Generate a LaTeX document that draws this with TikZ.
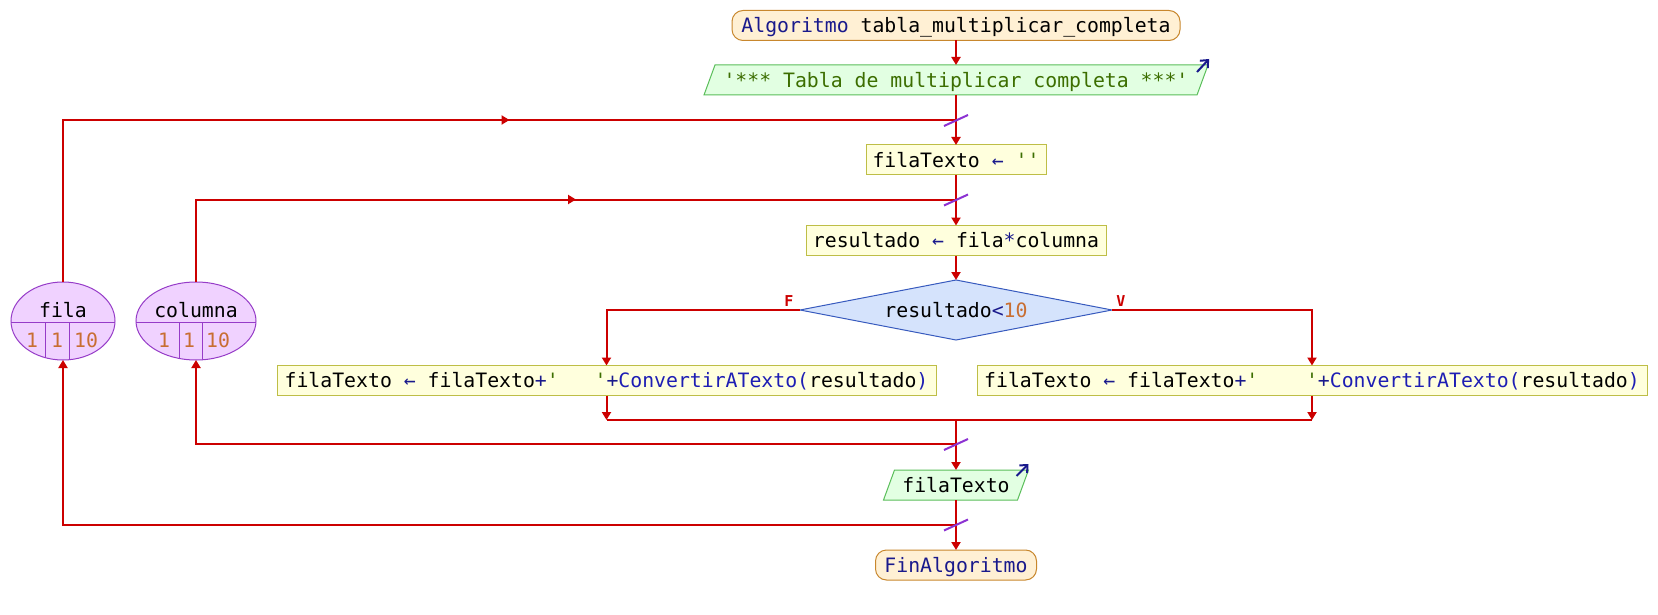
\documentclass[tikz,border=0pt]{standalone}
\usepackage{fontspec}
\setmonofont{DejaVu Sans Mono}
\usetikzlibrary{shapes.geometric,arrows.meta,calc,backgrounds}

\definecolor{flowc}{RGB}{204,0,0}
\definecolor{slashc}{RGB}{140,50,210}
\definecolor{termfill}{RGB}{255,240,212}
\definecolor{termdraw}{RGB}{200,135,45}
\definecolor{procfill}{RGB}{255,255,221}
\definecolor{procdraw}{RGB}{190,190,70}
\definecolor{iofill}{RGB}{226,255,226}
\definecolor{iodraw}{RGB}{90,190,90}
\definecolor{decfill}{RGB}{213,227,252}
\definecolor{decdraw}{RGB}{55,90,190}
\definecolor{varfill}{RGB}{240,210,255}
\definecolor{vardraw}{RGB}{150,60,200}
\definecolor{kwc}{RGB}{25,25,140}
\definecolor{strc}{RGB}{60,110,0}
\definecolor{numc}{RGB}{200,110,50}
\definecolor{fnc}{RGB}{30,30,180}

\newcommand\kw[1]{\textcolor{kwc}{#1}}
\newcommand\cstr[1]{\textcolor{strc}{#1}}
\newcommand\cnum[1]{\textcolor{numc}{#1}}
\newcommand\cfn[1]{\textcolor{fnc}{#1}}

\begin{document}
\begin{tikzpicture}[x=1pt, y=-1pt,
  font=\ttfamily\fontsize{19.8pt}{24pt}\selectfont,
  base/.style={inner sep=0pt, outer sep=0pt, text height=16.4pt, text depth=2pt, minimum height=30pt, line width=1pt},
  term/.style={base, draw=termdraw, fill=termfill, rounded corners=11pt},
  proc/.style={base, draw=procdraw, fill=procfill},
  io/.style={base},
  dec/.style={diamond, draw=decdraw, fill=decfill, inner sep=0pt, outer sep=0pt, aspect=5.2,
    minimum width=312pt, minimum height=60pt, line width=1pt, text height=16.4pt, text depth=2pt},
  var/.style={ellipse, draw=vardraw, fill=varfill, line width=1pt, inner sep=0pt, outer sep=0pt},
  txt/.style={inner sep=0pt, text height=16.4pt, text depth=2pt},
  line/.style={draw=flowc, line width=2pt},
  arr/.style={line, -{Triangle[length=8pt,width=9pt]}},
  slash/.style={draw=slashc, line width=2pt},
  lbl/.style={inner sep=0pt, text=flowc, font=\ttfamily\bfseries\fontsize{15pt}{15pt}\selectfont},
  icon/.style={draw=kwc, line width=2pt, -{Straight Barb[length=6pt,width=11pt]}},
  iobox/.style={fill=iofill, draw=iodraw, line width=1pt}
]
\useasboundingbox (0,0) rectangle (1658,615);

% nodes
\node[term, minimum width=448pt] (start) at (956,25.5) {\kw{Algoritmo} tabla\_multiplicar\_completa};
\node[io, minimum width=504pt] (out1) at (956,80) {\cstr{'*** Tabla de multiplicar completa ***'}};
\node[proc, minimum width=180pt] (b1) at (956,160) {filaTexto \kw{←} \cstr{''}};
\node[proc, minimum width=300pt] (b2) at (956,240.5) {resultado \kw{←} fila\kw{*}columna};
\node[dec] (d) at (956,310) {resultado\kw{<}\cnum{10}};
\node[proc, minimum width=659pt] (bl) at (606.5,380.5)
  {filaTexto \kw{←} filaTexto\kw{+}\cstr{'\ \ \ '}\kw{+}\cfn{ConvertirATexto(}resultado\cfn{)}};
\node[proc, minimum width=670pt] (br) at (1312,380.5)
  {filaTexto \kw{←} filaTexto\kw{+}\cstr{'\ \ \ \ '}\kw{+}\cfn{ConvertirATexto(}resultado\cfn{)}};
\node[io, minimum width=145pt] (out2) at (956,485) {filaTexto};
\node[term, minimum width=161pt] (end) at (956,565) {\kw{FinAlgoritmo}};

% white page and parallelograms behind the output nodes
\begin{scope}[on background layer]
  \fill[white] (0,0) rectangle (1658,615);
  \path[iobox] (out1.south west) -- ([xshift=-11pt]out1.south east) -- (out1.north east)
    -- ([xshift=11pt]out1.north west) -- cycle;
  \path[iobox] (out2.south west) -- ([xshift=-11pt]out2.south east) -- (out2.north east)
    -- ([xshift=11pt]out2.north west) -- cycle;
\end{scope}
\draw[icon] ([shift={(-11,7)}]out1.north east) -- ([shift={(1,-6)}]out1.north east);
\draw[icon] ([shift={(-12,6)}]out2.north east) -- ([shift={(0,-6)}]out2.north east);

% loop variables
\node[var, minimum width=104pt, minimum height=78pt] (fila) at (63,321) {};
\node[var, minimum width=120pt, minimum height=78pt] (col) at (196,321) {};
\begin{scope}
  \clip (63,321) ellipse [x radius=52, y radius=39];
  \draw[vardraw, line width=1pt] (0,322) -- (130,322) (45,322) -- (45,370) (69,322) -- (69,370);
\end{scope}
\begin{scope}
  \clip (196,321) ellipse [x radius=60, y radius=39];
  \draw[vardraw, line width=1pt] (130,322) -- (262,322) (179,322) -- (179,370) (202,322) -- (202,370);
\end{scope}
\node[txt] (filaname) at (63,310) {fila};
\node[txt] (filav1) at (32,340) {\cnum{1}};
\node[txt] (filav2) at (57,340) {\cnum{1}};
\node[txt] (filav3) at (86,340) {\cnum{10}};
\node[txt] (colname) at (196,310) {columna};
\node[txt] (colv1) at (164,340) {\cnum{1}};
\node[txt] (colv2) at (189,340) {\cnum{1}};
\node[txt] (colv3) at (218,340) {\cnum{10}};

% junction points
\coordinate (j1) at (956,120);
\coordinate (j2) at (956,199.5);
\coordinate (m) at (956,420);
\coordinate (j3) at (956,444);
\coordinate (j4) at (956,524.5);

% connectors
\draw[arr] (start.south) -- (out1.north);
\draw[arr] (out1.south) -- (b1.north);
\draw[arr] (b1.south) -- (b2.north);
\draw[arr] (b2.south) -- (d.north);
\draw[arr] (d.west) -| (bl.north);
\draw[arr] (d.east) -| (br.north);
\draw[arr] (bl.south) -- (bl.south |- m);
\draw[arr] (br.south) -- (br.south |- m);
\draw[line] (bl.south |- m) -- (br.south |- m);
\draw[arr] (m) -- (out2.north);
\draw[arr] (out2.south) -- (end.north);

\draw[arr] (j3) -| (col.south);
\draw[line] (col.north) |- (j2);
\draw[arr] (col.north |- j2) -- ($(col.north |- j2)!0.5!(j2)$);
\draw[arr] (j4) -| (fila.south);
\draw[line] (fila.north) |- (j1);
\draw[arr] (fila.north |- j1) -- ($(fila.north |- j1)!0.5!(j1)$);

% junction marks
\foreach \j in {j1,j2,j3,j4}
  \draw[slash] ([shift={(-12,6)}]\j) -- ([shift={(12,-5)}]\j);

% branch labels
\node[lbl] (flbl) at (789,301) {F};
\node[lbl] (vlbl) at (1121,301) {V};
\end{tikzpicture}
\end{document}
